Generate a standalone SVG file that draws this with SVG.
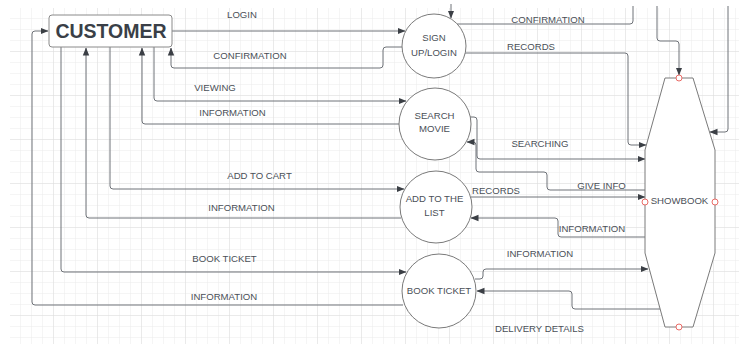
<svg xmlns="http://www.w3.org/2000/svg" width="739" height="347" viewBox="0 0 739 347">
  <defs>
    <pattern id="gridMinor" x="10" y="8" width="11" height="11" patternUnits="userSpaceOnUse">
      <path d="M11,0 V11 M0,11 H11" fill="none" stroke="#ebebeb" stroke-width="1"/>
    </pattern>
    <pattern id="gridMajor" x="10" y="8" width="44" height="44" patternUnits="userSpaceOnUse">
      <path d="M44,0 V44 M0,44 H44" fill="none" stroke="#dedede" stroke-width="1"/>
    </pattern>
    <marker id="arrow" viewBox="0 0 8 8" refX="7.5" refY="4" markerWidth="8" markerHeight="8" markerUnits="userSpaceOnUse" orient="auto">
      <path d="M0,0.8 L8,4 L0,7.2 Z" fill="#3b3f45"/>
    </marker>
    <style>
      .flow { fill: none; stroke: #6e7278; stroke-width: 1; stroke-linejoin: round; }
      .arr { marker-end: url(#arrow); }
      .lbl { font-family: "Liberation Sans", Arial, sans-serif; font-size: 9.6px; fill: #4a4f57; text-anchor: middle; }
      .proc { fill: #ffffff; stroke: #7a7a7a; stroke-width: 1; }
      .port { fill: #ffffff; stroke: #ea6b66; stroke-width: 1; }
    </style>
  </defs>

  <!-- background grid -->
  <rect x="0" y="0" width="739" height="347" fill="#ffffff"/>
  <rect x="10" y="8" width="729" height="336" fill="url(#gridMinor)"/>
  <rect x="10" y="8" width="729" height="336" fill="url(#gridMajor)"/>

  <!-- connectors -->
  <g id="connectors">
    <!-- customer side -->
    <path class="flow arr" d="M172,31 H405"/>
    <path class="flow arr" d="M402,47 H386 Q383,47 383,50 V65 Q383,68 380,68 H174 Q171,68 171,65 V48"/>
    <path class="flow" d="M154,47 V98 Q154,101 157,101 H406" marker-end="url(#arrow)"/>
    <path class="flow arr" d="M399,124 H145 Q142,124 142,121 V48"/>
    <path class="flow arr" d="M110,47 V186 Q110,189 113,189 H404"/>
    <path class="flow arr" d="M401,218 H89 Q86,218 86,215 V48"/>
    <path class="flow arr" d="M61,47 V269 Q61,272 64,272 H406"/>
    <path class="flow arr" d="M403,305 H35 Q32,305 32,302 V34 Q32,31 35,31 H48"/>

    <!-- showbook side -->
    <path class="flow" d="M457,24 H630 Q633,24 633,21 V6"/>
    <path class="flow arr" d="M451,4 V18"/>
    <path class="flow arr" d="M465,53 H625 Q628,53 628,56 V142 Q628,145 631,145 H646"/>
    <path class="flow arr" d="M657,6 V38 Q657,41 660,41 H676 Q679,41 679,44 V75"/>
    <path class="flow arr" d="M728,6 V129 Q728,132 725,132 H710"/>
    <path class="flow arr" d="M470,117 H474 Q477,117 477,120 V156 Q477,159 480,159 H645"/>
    <path class="flow arr" d="M645,190 H550 Q547,190 547,187 V175 Q547,172 544,172 H479 Q476,172 476,169 V145 Q476,142 473,142 H467"/>
    <path class="flow arr" d="M471,197 H645"/>
    <path class="flow arr" d="M645,237 H561 Q558,237 558,234 V221 Q558,218 555,218 H471"/>
    <path class="flow arr" d="M475,279 H480 Q483,279 483,276 V272 Q483,269 486,269 H648"/>
    <path class="flow arr" d="M660,309 H575 Q572,309 572,306 V294 Q572,291 569,291 H477"/>
  </g>

  <!-- connector labels -->
  <g id="labels">
    <text class="lbl" x="242" y="17.5">LOGIN</text>
    <text class="lbl" x="250" y="58.5">CONFIRMATION</text>
    <text class="lbl" x="215" y="90.5">VIEWING</text>
    <text class="lbl" x="232.5" y="115.5">INFORMATION</text>
    <text class="lbl" x="259.5" y="178.5">ADD TO CART</text>
    <text class="lbl" x="241.5" y="210.5">INFORMATION</text>
    <text class="lbl" x="224.5" y="261.5">BOOK TICKET</text>
    <text class="lbl" x="224" y="299.5">INFORMATION</text>
    <text class="lbl" x="548" y="22.5">CONFIRMATION</text>
    <text class="lbl" x="531" y="49.5">RECORDS</text>
    <text class="lbl" x="540" y="146.5">SEARCHING</text>
    <text class="lbl" x="601.5" y="189">GIVE INFO</text>
    <text class="lbl" x="496" y="193.5">RECORDS</text>
    <text class="lbl" x="592" y="231.5">INFORMATION</text>
    <text class="lbl" x="540" y="256.5">INFORMATION</text>
    <text class="lbl" x="539.5" y="331.5">DELIVERY DETAILS</text>
  </g>

  <!-- nodes -->
  <g id="customer">
    <rect x="49" y="15" width="123" height="32" rx="3" fill="#ffffff" stroke="#8a8a8a" stroke-width="1"/>
    <text x="111" y="38" font-family="'Liberation Sans', Arial, sans-serif" font-size="19.5" font-weight="bold" fill="#3a3f47" text-anchor="middle">CUSTOMER</text>
  </g>

  <g id="sign-up-login">
    <circle class="proc" cx="434" cy="46" r="32"/>
    <text class="lbl" x="434" y="40.5">SIGN</text>
    <text class="lbl" x="434" y="55.5">UP/LOGIN</text>
  </g>

  <g id="search-movie">
    <circle class="proc" cx="435" cy="124" r="36"/>
    <text class="lbl" x="434.5" y="118.5">SEARCH</text>
    <text class="lbl" x="434.5" y="131.5">MOVIE</text>
  </g>

  <g id="add-to-list">
    <circle class="proc" cx="436" cy="207" r="36"/>
    <text class="lbl" x="434.5" y="201.5">ADD TO THE</text>
    <text class="lbl" x="434.5" y="215.5">LIST</text>
  </g>

  <g id="book-ticket">
    <circle class="proc" cx="439" cy="291" r="37"/>
    <text class="lbl" x="439" y="293.5">BOOK TICKET</text>
  </g>

  <g id="showbook">
    <path class="proc" stroke-linejoin="round" d="M665,78 H693 L715,150 V253 L693,327 H665 L645,253 V150 Z"/>
    <text class="lbl" x="679.5" y="203.5">SHOWBOOK</text>
    <circle class="port" cx="679" cy="78" r="3"/>
    <circle class="port" cx="679" cy="327" r="3"/>
    <circle class="port" cx="645" cy="202" r="3"/>
    <circle class="port" cx="715" cy="202" r="3"/>
  </g>
</svg>
